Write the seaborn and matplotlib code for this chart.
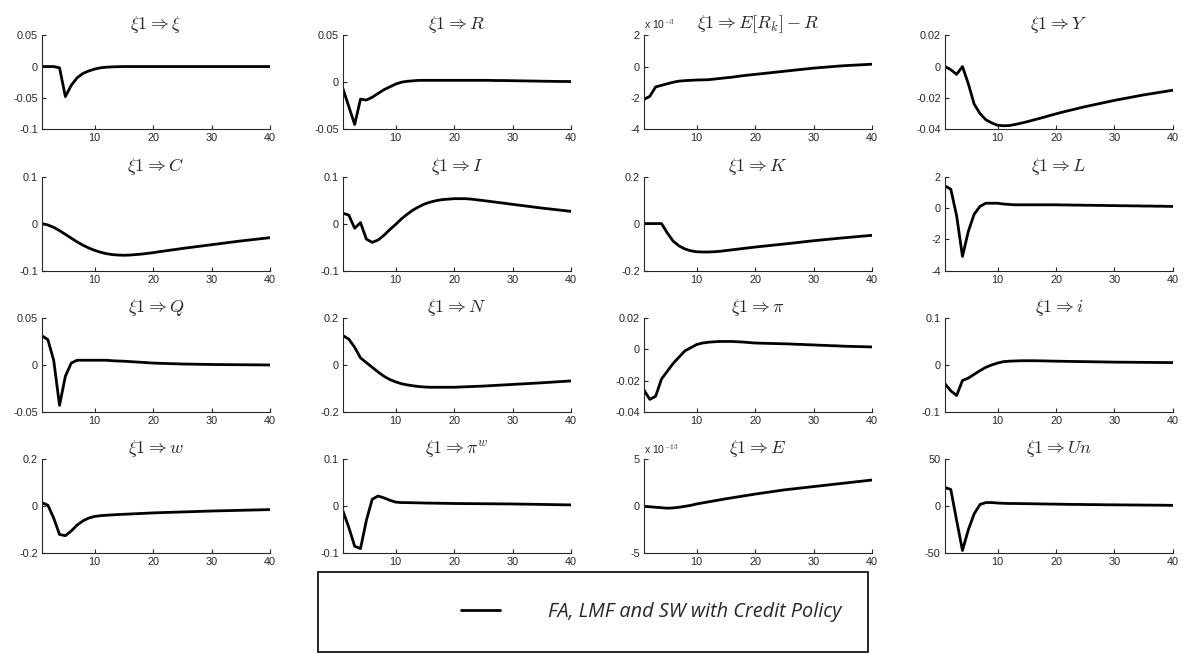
import numpy as np
import pandas as pd
import matplotlib
matplotlib.use("Agg")
import matplotlib.pyplot as plt
import seaborn as sns
from matplotlib.lines import Line2D
from matplotlib.patches import Rectangle

# horizonte 1..40
periods = list(range(1, 41))

xi_xi = [0, 0, 0, -0.002, -0.048, -0.030, -0.018, -0.011, -0.007, -0.004,
         -0.002, -0.001, -0.0005, -0.0002, 0, 0, 0, 0, 0, 0,
         0, 0, 0, 0, 0, 0, 0, 0, 0, 0,
         0, 0, 0, 0, 0, 0, 0, 0, 0, 0]
xi_R = [-0.007, -0.026, -0.045, -0.018, -0.019, -0.016, -0.012, -0.008, -0.005, -0.002,
        0.000, 0.001, 0.0015, 0.002, 0.002, 0.002, 0.002, 0.002, 0.002, 0.002,
        0.002, 0.002, 0.002, 0.002, 0.002, 0.002, 0.0018, 0.0018, 0.0017, 0.0016,
        0.0015, 0.0014, 0.0013, 0.0012, 0.0011, 0.0010, 0.0009, 0.0008, 0.0008, 0.0007]
xi_spread = [-2.1, -1.9, -1.3, -1.2, -1.1, -1.0, -0.93, -0.9, -0.88, -0.86,
             -0.85, -0.84, -0.8, -0.76, -0.72, -0.68, -0.63, -0.58, -0.54, -0.5,
             -0.46, -0.42, -0.38, -0.34, -0.3, -0.26, -0.22, -0.18, -0.14, -0.1,
             -0.07, -0.04, -0.01, 0.02, 0.05, 0.07, 0.09, 0.11, 0.13, 0.15]
xi_Y = [0.0, -0.002, -0.005, 0.0, -0.011, -0.024, -0.030, -0.034, -0.036, -0.0375,
        -0.0378, -0.0377, -0.0370, -0.0362, -0.0353, -0.0343, -0.0333, -0.0323, -0.0312, -0.0302,
        -0.0292, -0.0283, -0.0274, -0.0265, -0.0256, -0.0248, -0.0240, -0.0232, -0.0224, -0.0216,
        -0.0209, -0.0202, -0.0195, -0.0188, -0.0181, -0.0175, -0.0169, -0.0163, -0.0157, -0.0151]
xi_C = [0.0, -0.003, -0.008, -0.015, -0.023, -0.031, -0.039, -0.046, -0.052, -0.057,
        -0.061, -0.064, -0.066, -0.067, -0.0675, -0.067, -0.066, -0.065, -0.0635, -0.062,
        -0.060, -0.0583, -0.0565, -0.0548, -0.053, -0.0514, -0.0498, -0.0482, -0.0466, -0.045,
        -0.0434, -0.0418, -0.0402, -0.0386, -0.037, -0.0356, -0.0342, -0.0328, -0.0314, -0.030]
xi_I = [0.022, 0.018, -0.010, 0.002, -0.033, -0.040, -0.035, -0.025, -0.013, -0.002,
        0.010, 0.020, 0.029, 0.036, 0.042, 0.046, 0.049, 0.051, 0.052, 0.053,
        0.053, 0.053, 0.052, 0.0505, 0.049, 0.0474, 0.0458, 0.0442, 0.0426, 0.041,
        0.0394, 0.0378, 0.0362, 0.0346, 0.033, 0.0316, 0.0302, 0.0288, 0.0274, 0.026]
xi_K = [0, 0, 0, 0, -0.040, -0.075, -0.095, -0.108, -0.116, -0.120,
        -0.121, -0.121, -0.120, -0.118, -0.115, -0.112, -0.109, -0.106, -0.103, -0.100,
        -0.0974, -0.0948, -0.0922, -0.0896, -0.087, -0.0842, -0.0814, -0.0786, -0.0758, -0.073,
        -0.0706, -0.0682, -0.0658, -0.0634, -0.061, -0.0588, -0.0566, -0.0544, -0.0522, -0.050]
xi_L = [1.4, 1.2, -0.5, -3.1, -1.5, -0.4, 0.1, 0.3, 0.3, 0.3,
        0.25, 0.22, 0.2, 0.2, 0.2, 0.2, 0.2, 0.2, 0.2, 0.2,
        0.19, 0.19, 0.18, 0.18, 0.17, 0.17, 0.16, 0.16, 0.15, 0.15,
        0.14, 0.14, 0.13, 0.13, 0.12, 0.12, 0.11, 0.11, 0.1, 0.1]
xi_Q = [0.031, 0.027, 0.005, -0.043, -0.012, 0.002, 0.005, 0.005, 0.005, 0.005,
        0.005, 0.005, 0.0045, 0.0042, 0.004, 0.0036, 0.0032, 0.0028, 0.0024, 0.002,
        0.0018, 0.0016, 0.0014, 0.0012, 0.001, 0.0009, 0.0008, 0.0007, 0.0006, 0.0005,
        0.0004, 0.0004, 0.0003, 0.0003, 0.0002, 0.0002, 0.0001, 0.0001, 0.0, 0.0]
xi_N = [0.125, 0.110, 0.075, 0.030, 0.010, -0.010, -0.030, -0.048, -0.062, -0.072,
        -0.080, -0.085, -0.089, -0.092, -0.094, -0.095, -0.095, -0.095, -0.095, -0.095,
        -0.094, -0.093, -0.092, -0.091, -0.090, -0.0886, -0.0872, -0.0858, -0.0844, -0.083,
        -0.0816, -0.0802, -0.0788, -0.0774, -0.076, -0.0744, -0.0728, -0.0712, -0.0696, -0.068]
xi_pi = [-0.026, -0.032, -0.030, -0.019, -0.014, -0.009, -0.005, -0.001, 0.001, 0.003,
         0.004, 0.0045, 0.0048, 0.005, 0.005, 0.005, 0.0048, 0.0046, 0.0043, 0.004,
         0.0039, 0.0038, 0.0037, 0.0036, 0.0035, 0.0034, 0.0032, 0.0031, 0.0029, 0.0028,
         0.0026, 0.0025, 0.0023, 0.0022, 0.002, 0.0019, 0.0018, 0.0017, 0.0016, 0.0015]
xi_i = [-0.040, -0.055, -0.065, -0.033, -0.028, -0.020, -0.012, -0.005, 0.000, 0.004,
        0.007, 0.008, 0.0085, 0.009, 0.009, 0.009, 0.0088, 0.0086, 0.0083, 0.008,
        0.0078, 0.0076, 0.0074, 0.0072, 0.007, 0.0068, 0.0066, 0.0064, 0.0062, 0.006,
        0.0059, 0.0058, 0.0057, 0.0056, 0.0055, 0.0054, 0.0053, 0.0052, 0.0051, 0.005]
xi_w = [0.015, 0.005, -0.050, -0.120, -0.125, -0.105, -0.080, -0.062, -0.050, -0.043,
        -0.040, -0.038, -0.0365, -0.035, -0.034, -0.0328, -0.0316, -0.0304, -0.0292, -0.028,
        -0.0272, -0.0264, -0.0256, -0.0248, -0.024, -0.0232, -0.0224, -0.0216, -0.0208, -0.020,
        -0.0194, -0.0188, -0.0182, -0.0176, -0.017, -0.0164, -0.0158, -0.0152, -0.0146, -0.014]
xi_piw = [-0.010, -0.045, -0.085, -0.090, -0.030, 0.015, 0.022, 0.018, 0.013, 0.009,
          0.008, 0.0078, 0.0076, 0.0073, 0.007, 0.0068, 0.0066, 0.0064, 0.0062, 0.006,
          0.0059, 0.0058, 0.0057, 0.0056, 0.0055, 0.0054, 0.0053, 0.0052, 0.0051, 0.005,
          0.0048, 0.0046, 0.0044, 0.0042, 0.004, 0.0038, 0.0036, 0.0034, 0.0032, 0.003]
xi_E = [0.0, -0.05, -0.1, -0.15, -0.2, -0.17, -0.1, 0.0, 0.1, 0.25,
        0.36, 0.47, 0.58, 0.69, 0.8, 0.9, 1.0, 1.1, 1.2, 1.3,
        1.39, 1.48, 1.57, 1.66, 1.75, 1.82, 1.89, 1.96, 2.03, 2.1,
        2.17, 2.24, 2.31, 2.38, 2.45, 2.52, 2.59, 2.66, 2.73, 2.8]
xi_Un = [20, 18, -15, -47, -25, -8, 2, 4, 4, 3.5,
         3.2, 3.0, 3.0, 2.9, 2.8, 2.7, 2.6, 2.5, 2.4, 2.3,
         2.2, 2.1, 2.0, 2.0, 1.9, 1.8, 1.8, 1.7, 1.6, 1.6,
         1.5, 1.5, 1.4, 1.4, 1.3, 1.3, 1.2, 1.2, 1.1, 1.0]

titles = [r"$\xi1 \Rightarrow \xi$", r"$\xi1 \Rightarrow R$",
          r"$\xi1 \Rightarrow E[R_k]-R$", r"$\xi1 \Rightarrow Y$",
          r"$\xi1 \Rightarrow C$", r"$\xi1 \Rightarrow I$",
          r"$\xi1 \Rightarrow K$", r"$\xi1 \Rightarrow L$",
          r"$\xi1 \Rightarrow Q$", r"$\xi1 \Rightarrow N$",
          r"$\xi1 \Rightarrow \pi$", r"$\xi1 \Rightarrow i$",
          r"$\xi1 \Rightarrow w$", r"$\xi1 \Rightarrow \pi^w$",
          r"$\xi1 \Rightarrow E$", r"$\xi1 \Rightarrow Un$"]
series = [xi_xi, xi_R, xi_spread, xi_Y, xi_C, xi_I, xi_K, xi_L,
          xi_Q, xi_N, xi_pi, xi_i, xi_w, xi_piw, xi_E, xi_Un]
yticks = [[-0.1, -0.05, 0, 0.05], [-0.05, 0, 0.05], [-4, -2, 0, 2], [-0.04, -0.02, 0, 0.02],
          [-0.1, 0, 0.1], [-0.1, 0, 0.1], [-0.2, 0, 0.2], [-4, -2, 0, 2],
          [-0.05, 0, 0.05], [-0.2, 0, 0.2], [-0.04, -0.02, 0, 0.02], [-0.1, 0, 0.1],
          [-0.2, 0, 0.2], [-0.1, 0, 0.1], [-5, 0, 5], [-50, 0, 50]]
yticklabels = [["-0.1", "-0.05", "0", "0.05"], ["-0.05", "0", "0.05"], ["-4", "-2", "0", "2"],
               ["-0.04", "-0.02", "0", "0.02"], ["-0.1", "0", "0.1"], ["-0.1", "0", "0.1"],
               ["-0.2", "0", "0.2"], ["-4", "-2", "0", "2"], ["-0.05", "0", "0.05"],
               ["-0.2", "0", "0.2"], ["-0.04", "-0.02", "0", "0.02"], ["-0.1", "0", "0.1"],
               ["-0.2", "0", "0.2"], ["-0.1", "0", "0.1"], ["-5", "0", "5"], ["-50", "0", "50"]]
exponents = {2: r"x 10$^{-3}$", 14: r"x 10$^{-13}$"}
legend_label = "FA, LMF and SW with Credit Policy"

sns.set_style("ticks")
plt.rcParams["font.family"] = ["Liberation Sans", "DejaVu Sans"]
plt.rcParams["mathtext.fontset"] = "cm"

fig, axes = plt.subplots(4, 4, figsize=(11.83, 6.65), dpi=100)
fig.subplots_adjust(left=0.0355, right=0.9915, top=0.947, bottom=0.168,
                    wspace=0.32, hspace=0.505)

for k, ax in enumerate(axes.flat):
    df = pd.DataFrame({"t": periods, "v": series[k]})
    sns.lineplot(data=df, x="t", y="v", ax=ax, color="black", linewidth=2)
    ax.set_xlim(1, 40)
    ax.set_ylim(yticks[k][0], yticks[k][-1])
    ax.set_xticks([10, 20, 30, 40])
    ax.set_yticks(yticks[k])
    ax.set_yticklabels(yticklabels[k])
    ax.set_xlabel("")
    ax.set_ylabel("")
    ax.set_title(titles[k], fontsize=13, pad=4)
    ax.tick_params(direction="in", length=3, width=0.8, labelsize=7.8, pad=3)
    for s in ["left", "bottom"]:
        ax.spines[s].set_linewidth(0.8)
    sns.despine(ax=ax)
    if k in exponents:
        ax.text(0.0, 1.04, exponents[k], transform=ax.transAxes, fontsize=7.5,
                ha="left", va="bottom")

# caja de leyenda
fig.patches.append(Rectangle((318 / 1183, 1 - 652 / 665), 550 / 1183, 80 / 665,
                             transform=fig.transFigure, fill=False,
                             edgecolor="black", linewidth=1.2))
handle = Line2D([], [], color="black", linewidth=2)
fig.legend([handle], [legend_label], loc="center", frameon=False,
           bbox_to_anchor=(651 / 1183, 1 - 612 / 665), handlelength=2.0, handletextpad=2.4,
           prop={"family": "Open Sans", "style": "italic", "size": 14.3})

fig.savefig("out.png", dpi=100)
